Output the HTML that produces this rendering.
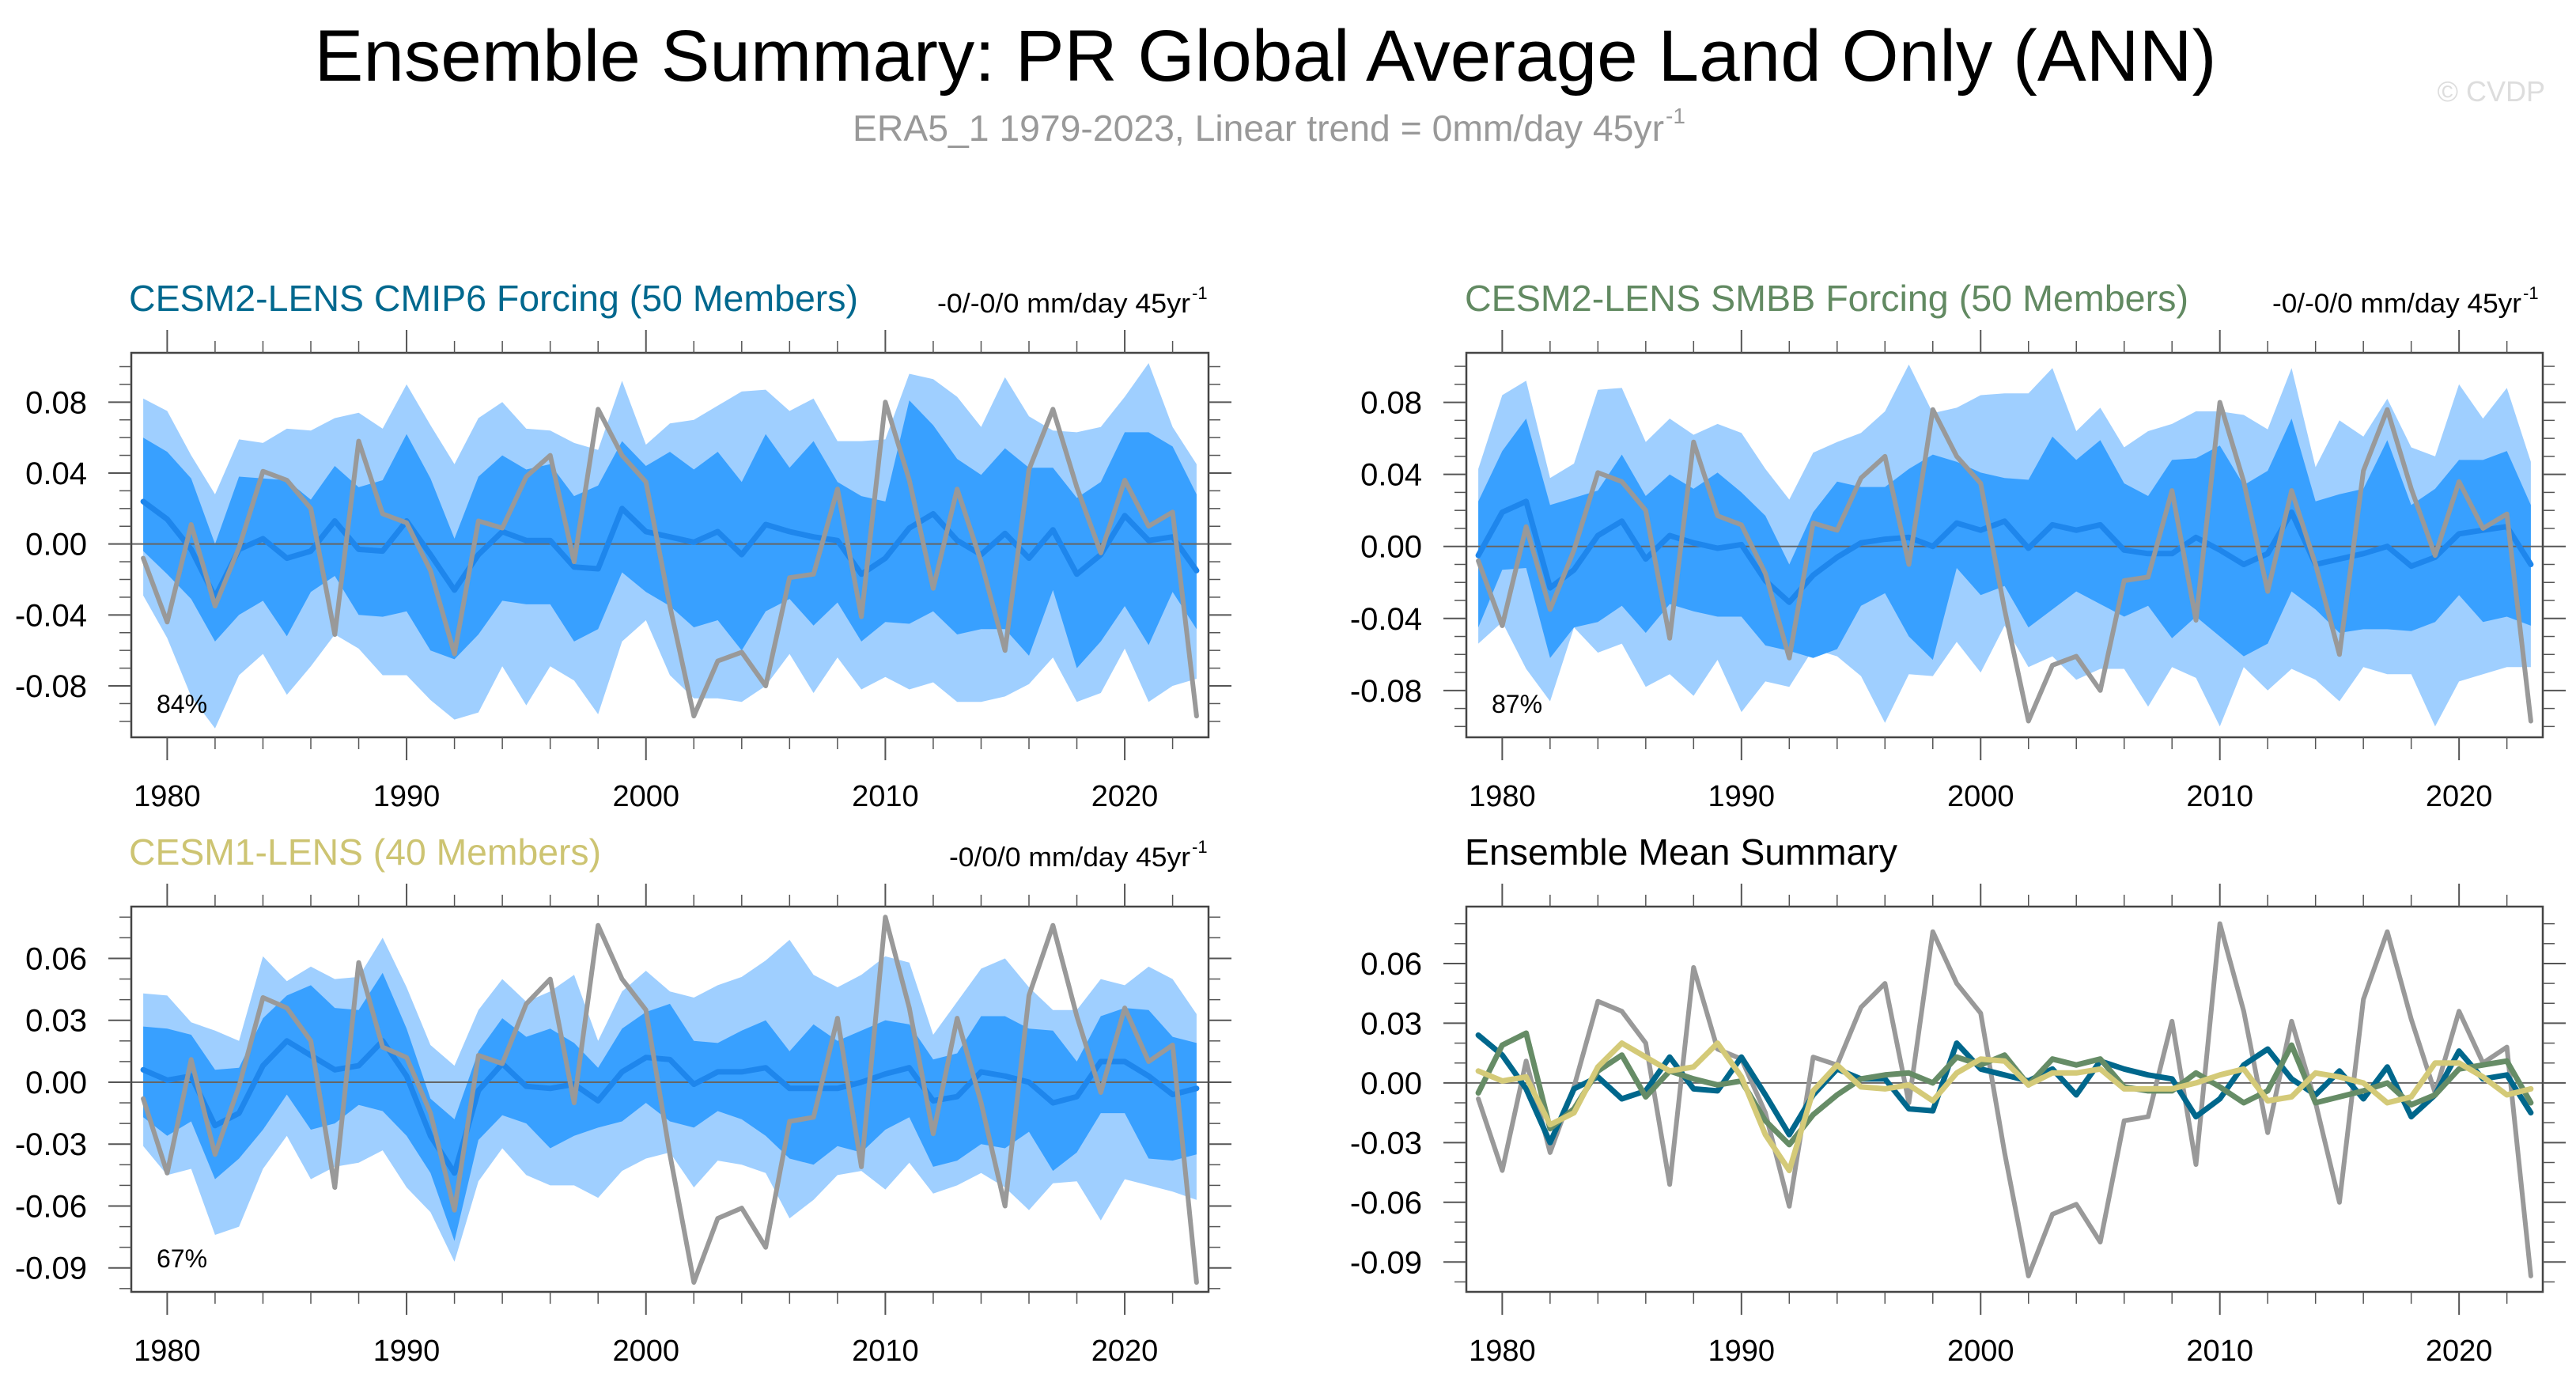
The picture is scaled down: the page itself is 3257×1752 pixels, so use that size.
<!DOCTYPE html>
<html><head><meta charset="utf-8"><style>
html,body{margin:0;padding:0;background:#fff;}
svg{display:block;font-family:"Liberation Sans",Arial,sans-serif;}
</style></head><body>
<svg id="fig" width="3257" height="1752" viewBox="0 0 3257 1752" xmlns="http://www.w3.org/2000/svg">
<rect width="3257" height="1752" fill="#fff"/>
<text x="1600" y="102" font-size="92" text-anchor="middle" textLength="2405" lengthAdjust="spacingAndGlyphs">Ensemble Summary: PR Global Average Land Only (ANN)</text>
<text x="1078" y="178" font-size="46" fill="#999" textLength="1026" lengthAdjust="spacingAndGlyphs">ERA5_1 1979-2023, Linear trend = 0mm/day 45yr</text>
<text x="2106" y="156" font-size="28" fill="#999">-1</text>
<text x="3218" y="128" font-size="36" fill="#ddd" text-anchor="end">© CVDP</text>

<text x="163" y="393" font-size="46" fill="#00688e" textLength="922" lengthAdjust="spacingAndGlyphs">CESM2-LENS CMIP6 Forcing (50 Members)</text>
<text x="1185" y="395" font-size="34" textLength="320" lengthAdjust="spacingAndGlyphs">-0/-0/0 mm/day 45yr</text>
<text x="1507" y="378" font-size="22">-1</text>

<text x="1852" y="393" font-size="46" fill="#628a62" textLength="915" lengthAdjust="spacingAndGlyphs">CESM2-LENS SMBB Forcing (50 Members)</text>
<text x="2873" y="395" font-size="34" textLength="315" lengthAdjust="spacingAndGlyphs">-0/-0/0 mm/day 45yr</text>
<text x="3190" y="378" font-size="22">-1</text>

<text x="163" y="1093" font-size="46" fill="#cdc472" textLength="597" lengthAdjust="spacingAndGlyphs">CESM1-LENS (40 Members)</text>
<text x="1200" y="1095" font-size="34" textLength="305" lengthAdjust="spacingAndGlyphs">-0/0/0 mm/day 45yr</text>
<text x="1507" y="1078" font-size="22">-1</text>

<text x="1852" y="1093" font-size="46" fill="#000" textLength="547" lengthAdjust="spacingAndGlyphs">Ensemble Mean Summary</text>
</svg>
<script>
// ---- data ----
const years = [1979,1980,1981,1982,1983,1984,1985,1986,1987,1988,1989,1990,1991,1992,1993,1994,1995,1996,1997,1998,1999,2000,2001,2002,2003,2004,2005,2006,2007,2008,2009,2010,2011,2012,2013,2014,2015,2016,2017,2018,2019,2020,2021,2022,2023];
const obsERA5 = [-0.008,-0.044,0.011,-0.035,-0.002,0.041,0.036,0.020,-0.051,0.058,0.017,0.012,-0.015,-0.062,0.013,0.009,0.038,0.050,-0.010,0.076,0.050,0.035,-0.035,-0.097,-0.066,-0.061,-0.080,-0.019,-0.017,0.031,-0.041,0.080,0.036,-0.025,0.031,-0.010,-0.060,0.042,0.076,0.032,-0.005,0.036,0.010,0.018,-0.097];

const cmip6Mean = [0.024,0.014,-0.003,-0.030,-0.003,0.003,-0.008,-0.004,0.013,-0.003,-0.004,0.013,-0.006,-0.026,-0.006,0.007,0.002,0.002,-0.013,-0.014,0.020,0.007,0.004,0.001,0.007,-0.006,0.011,0.007,0.004,0.002,-0.017,-0.008,0.009,0.017,0.002,-0.006,0.006,-0.008,0.008,-0.017,-0.006,0.016,0.002,0.004,-0.015];
const cmip6DarkHi = [0.060,0.052,0.037,0.000,0.038,0.037,0.036,0.025,0.044,0.032,0.036,0.062,0.037,0.003,0.038,0.050,0.042,0.045,0.027,0.033,0.058,0.044,0.052,0.042,0.052,0.035,0.062,0.043,0.058,0.035,0.027,0.024,0.081,0.067,0.048,0.039,0.054,0.043,0.043,0.026,0.035,0.063,0.063,0.055,0.028];
const cmip6DarkLo = [-0.004,-0.017,-0.031,-0.055,-0.040,-0.032,-0.052,-0.027,-0.018,-0.040,-0.041,-0.038,-0.060,-0.065,-0.051,-0.032,-0.034,-0.034,-0.055,-0.048,-0.016,-0.027,-0.035,-0.047,-0.043,-0.060,-0.038,-0.031,-0.046,-0.033,-0.055,-0.044,-0.045,-0.038,-0.051,-0.048,-0.048,-0.063,-0.026,-0.070,-0.055,-0.035,-0.057,-0.027,-0.048];
const cmip6LightHi = [0.082,0.075,0.050,0.028,0.059,0.057,0.065,0.064,0.071,0.074,0.065,0.090,0.067,0.045,0.071,0.080,0.065,0.064,0.057,0.053,0.092,0.056,0.068,0.070,0.078,0.086,0.087,0.075,0.082,0.058,0.058,0.059,0.096,0.093,0.083,0.066,0.094,0.072,0.064,0.063,0.066,0.083,0.102,0.066,0.045];
const cmip6LightLo = [-0.029,-0.053,-0.086,-0.104,-0.074,-0.062,-0.085,-0.069,-0.051,-0.059,-0.074,-0.074,-0.088,-0.099,-0.095,-0.069,-0.091,-0.069,-0.077,-0.096,-0.055,-0.043,-0.074,-0.087,-0.087,-0.089,-0.080,-0.062,-0.084,-0.064,-0.082,-0.075,-0.082,-0.078,-0.089,-0.089,-0.086,-0.079,-0.064,-0.089,-0.084,-0.059,-0.089,-0.080,-0.076];

const smbbMean = [-0.005,0.019,0.025,-0.023,-0.013,0.006,0.014,-0.007,0.006,0.002,-0.001,0.001,-0.019,-0.031,-0.016,-0.006,0.002,0.004,0.005,0.000,0.013,0.009,0.014,-0.001,0.012,0.009,0.012,-0.002,-0.004,-0.004,0.005,-0.002,-0.010,-0.004,0.019,-0.010,-0.007,-0.004,0.000,-0.011,-0.006,0.007,0.009,0.011,-0.010];
const smbbDarkHi = [0.025,0.053,0.071,0.023,0.027,0.031,0.051,0.028,0.040,0.032,0.041,0.030,0.017,-0.010,0.019,0.036,0.033,0.033,0.043,0.051,0.047,0.041,0.038,0.037,0.061,0.048,0.059,0.035,0.028,0.048,0.049,0.056,0.034,0.042,0.071,0.025,0.029,0.032,0.059,0.023,0.032,0.048,0.048,0.053,0.023];
const smbbDarkLo = [-0.045,-0.013,-0.012,-0.062,-0.045,-0.042,-0.033,-0.048,-0.032,-0.036,-0.039,-0.039,-0.055,-0.058,-0.062,-0.057,-0.033,-0.026,-0.050,-0.063,-0.012,-0.027,-0.022,-0.045,-0.035,-0.025,-0.032,-0.039,-0.033,-0.051,-0.039,-0.050,-0.061,-0.054,-0.025,-0.035,-0.048,-0.046,-0.046,-0.047,-0.042,-0.027,-0.042,-0.039,-0.044];
const smbbLightHi = [0.043,0.084,0.092,0.038,0.046,0.087,0.088,0.058,0.071,0.062,0.068,0.063,0.043,0.026,0.052,0.058,0.063,0.075,0.101,0.074,0.077,0.084,0.085,0.085,0.099,0.064,0.077,0.055,0.064,0.068,0.075,0.075,0.073,0.065,0.099,0.044,0.070,0.061,0.082,0.055,0.050,0.090,0.071,0.088,0.047];
const smbbLightLo = [-0.054,-0.042,-0.068,-0.086,-0.045,-0.059,-0.054,-0.078,-0.071,-0.083,-0.063,-0.092,-0.075,-0.078,-0.057,-0.061,-0.072,-0.098,-0.071,-0.072,-0.053,-0.070,-0.044,-0.067,-0.061,-0.074,-0.068,-0.068,-0.089,-0.067,-0.073,-0.100,-0.067,-0.080,-0.068,-0.074,-0.086,-0.067,-0.071,-0.071,-0.100,-0.075,-0.071,-0.067,-0.067];

const cesm1Mean = [0.006,0.001,0.003,-0.021,-0.015,0.008,0.020,0.013,0.006,0.008,0.020,0.003,-0.026,-0.044,-0.004,0.009,-0.002,-0.003,-0.001,-0.009,0.005,0.012,0.011,-0.001,0.005,0.005,0.007,-0.003,-0.003,-0.003,0.000,0.004,0.007,-0.009,-0.007,0.005,0.003,0.000,-0.010,-0.007,0.010,0.010,0.003,-0.006,-0.003];
const cesm1DarkHi = [0.027,0.026,0.023,0.006,0.007,0.031,0.042,0.047,0.036,0.035,0.053,0.026,-0.008,-0.018,0.015,0.031,0.022,0.026,0.019,0.007,0.026,0.034,0.038,0.020,0.019,0.025,0.030,0.015,0.028,0.020,0.025,0.030,0.028,0.011,0.014,0.032,0.032,0.026,0.025,0.010,0.032,0.036,0.035,0.022,0.019];
const cesm1DarkLo = [-0.017,-0.026,-0.019,-0.047,-0.037,-0.023,-0.006,-0.023,-0.020,-0.011,-0.014,-0.026,-0.044,-0.077,-0.028,-0.016,-0.020,-0.032,-0.026,-0.022,-0.019,-0.010,-0.019,-0.022,-0.014,-0.018,-0.026,-0.037,-0.040,-0.031,-0.034,-0.023,-0.017,-0.041,-0.038,-0.030,-0.032,-0.024,-0.043,-0.034,-0.015,-0.015,-0.037,-0.038,-0.035];
const cesm1LightHi = [0.043,0.042,0.029,0.025,0.020,0.061,0.049,0.056,0.050,0.051,0.070,0.046,0.018,0.008,0.035,0.050,0.039,0.044,0.052,0.020,0.044,0.054,0.044,0.041,0.047,0.051,0.059,0.069,0.052,0.046,0.052,0.061,0.058,0.023,0.039,0.055,0.060,0.046,0.035,0.035,0.050,0.047,0.056,0.050,0.033];
const cesm1LightLo = [-0.031,-0.045,-0.042,-0.074,-0.070,-0.042,-0.026,-0.047,-0.041,-0.039,-0.033,-0.051,-0.063,-0.087,-0.048,-0.032,-0.045,-0.050,-0.050,-0.056,-0.043,-0.037,-0.034,-0.051,-0.038,-0.040,-0.044,-0.066,-0.057,-0.045,-0.043,-0.052,-0.039,-0.054,-0.050,-0.044,-0.051,-0.062,-0.049,-0.048,-0.067,-0.047,-0.050,-0.053,-0.057];

const xTickYears = [1980,1990,2000,2010,2020];
const yTicksTop = [0.08,0.04,0.00,-0.04,-0.08];
const yTickLabelsTop = ["0.08","0.04","0.00","-0.04","-0.08"];
const yTicksBottom = [0.06,0.03,0.00,-0.03,-0.06,-0.09];
const yTickLabelsBottom = ["0.06","0.03","0.00","-0.03","-0.06","-0.09"];
const pctLabels = ["84%","87%","67%"];

// ---- drawing ----
const NS = "http://www.w3.org/2000/svg";
const svg = document.getElementById("fig");
function mk(tag, attrs, parent){
  const e = document.createElementNS(NS, tag);
  for (const k in attrs) e.setAttribute(k, attrs[k]);
  (parent||svg).appendChild(e);
  return e;
}
function makePanel(name, x0, x1, y0, y1, ymin, ymax, ticks, tickLabels){
  const g = mk("g", {});
  
  
  const sx = v => x0 + (v - 1978.5) / 45 * (x1 - x0);
  const sy = v => y1 - (v - ymin) / (ymax - ymin) * (y1 - y0);
  return {g, sx, sy, x0, x1, y0, y1, ymin, ymax, ticks, tickLabels};
}
function band(P, hi, lo, color, name){
  let d = "";
  years.forEach((yr,i)=>{ d += (i?"L":"M") + P.sx(yr).toFixed(1) + "," + P.sy(hi[i]).toFixed(1); });
  for (let i = years.length-1; i >= 0; i--) d += "L" + P.sx(years[i]).toFixed(1) + "," + P.sy(lo[i]).toFixed(1);
  const p = mk("path", {d: d + "Z", fill: color, stroke: "none"}, P.g);
  
  
}
function line(P, vals, color, w, name){
  const pts = years.map((yr,i)=>P.sx(yr).toFixed(1)+","+P.sy(vals[i]).toFixed(1)).join(" ");
  const p = mk("polyline", {points: pts, fill: "none", stroke: color, "stroke-width": w, "stroke-linejoin": "round", "stroke-linecap": "round"}, P.g);
  
  
}
function axes(P, prefix){
  const zl = mk("line", {x1: P.x0, x2: P.x1, y1: P.sy(0), y2: P.sy(0), stroke: "#666", "stroke-width": 2}, P.g);
  
  
  const fr = mk("rect", {x: P.x0, y: P.y0, width: P.x1-P.x0, height: P.y1-P.y0, fill: "none", stroke: "#444", "stroke-width": 2.5}, P.g);
  
  
  for (let yr = 1980; yr <= 2022; yr += 2){
    const major = yr % 10 === 0, L = major ? 29 : 15, x = P.sx(yr);
    mk("line", {x1: x, x2: x, y1: P.y1, y2: P.y1 + L, stroke: "#555", "stroke-width": major?2:1.5}, P.g);
    mk("line", {x1: x, x2: x, y1: P.y0, y2: P.y0 - L, stroke: "#555", "stroke-width": major?2:1.5}, P.g);
  }
  xTickYears.forEach(yr=>{
    const t = mk("text", {x: P.sx(yr), y: P.y1 + 87, "font-size": 38, "text-anchor": "middle"}, P.g);
    t.textContent = yr;
    
    
  });
  for (let k = Math.ceil(P.ymin*100); k <= Math.floor(P.ymax*100); k++){
    const v = k/100, y = P.sy(v);
    const major = P.ticks.some(t => Math.abs(t - v) < 1e-6), L = major ? 29 : 15;
    mk("line", {x1: P.x0, x2: P.x0 - L, y1: y, y2: y, stroke: "#555", "stroke-width": major?2:1.5}, P.g);
    mk("line", {x1: P.x1, x2: P.x1 + L, y1: y, y2: y, stroke: "#555", "stroke-width": major?2:1.5}, P.g);
  }
  P.ticks.forEach((v,i)=>{
    const t = mk("text", {x: P.x0 - 56, y: P.sy(v) + 14, "font-size": 40, "text-anchor": "end"}, P.g);
    t.textContent = P.tickLabels[i];
    
    
  });
}
function pct(P, txt, name){
  const t = mk("text", {x: P.x0 + 32, y: P.y1 - 31, "font-size": 32}, P.g);
  t.textContent = txt;
  
  
}
const LIGHT = "#9fcfff", DARK = "#38a0ff", MEAN = "#1e86ec", OBS = "#999999";

const P1 = makePanel("cmip6-panel", 166, 1528, 446, 932, -0.109, 0.1078, yTicksTop, yTickLabelsTop);
band(P1, cmip6LightHi, cmip6LightLo, LIGHT, "cmip6-outer-spread");
band(P1, cmip6DarkHi, cmip6DarkLo, DARK, "cmip6-inner-spread");
axes(P1, "cmip6");
line(P1, cmip6Mean, MEAN, 7, "cmip6-ensemble-mean-line");
line(P1, obsERA5, OBS, 6, "cmip6-era5-obs-line");
pct(P1, pctLabels[0], "cmip6-percent-label");

const P2 = makePanel("smbb-panel", 1854, 3215, 446, 932, -0.106, 0.1075, yTicksTop, yTickLabelsTop);
band(P2, smbbLightHi, smbbLightLo, LIGHT, "smbb-outer-spread");
band(P2, smbbDarkHi, smbbDarkLo, DARK, "smbb-inner-spread");
axes(P2, "smbb");
line(P2, smbbMean, MEAN, 7, "smbb-ensemble-mean-line");
line(P2, obsERA5, OBS, 6, "smbb-era5-obs-line");
pct(P2, pctLabels[1], "smbb-percent-label");

const P3 = makePanel("cesm1-panel", 166, 1528, 1146, 1633, -0.1016, 0.0851, yTicksBottom, yTickLabelsBottom);
band(P3, cesm1LightHi, cesm1LightLo, LIGHT, "cesm1-outer-spread");
band(P3, cesm1DarkHi, cesm1DarkLo, DARK, "cesm1-inner-spread");
axes(P3, "cesm1");
line(P3, cesm1Mean, MEAN, 7, "cesm1-ensemble-mean-line");
line(P3, obsERA5, OBS, 6, "cesm1-era5-obs-line");
pct(P3, pctLabels[2], "cesm1-percent-label");

const P4 = makePanel("mean-summary-panel", 1854, 3215, 1146, 1633, -0.105, 0.0886, yTicksBottom, yTickLabelsBottom);
axes(P4, "summary");
line(P4, obsERA5, OBS, 6, "summary-era5-obs-line");
line(P4, cmip6Mean, "#00678c", 7, "summary-cmip6-mean-line");
line(P4, smbbMean, "#668c66", 7, "summary-smbb-mean-line");
line(P4, cesm1Mean, "#d4ca78", 7, "summary-cesm1-mean-line");
</script>
</body></html>
